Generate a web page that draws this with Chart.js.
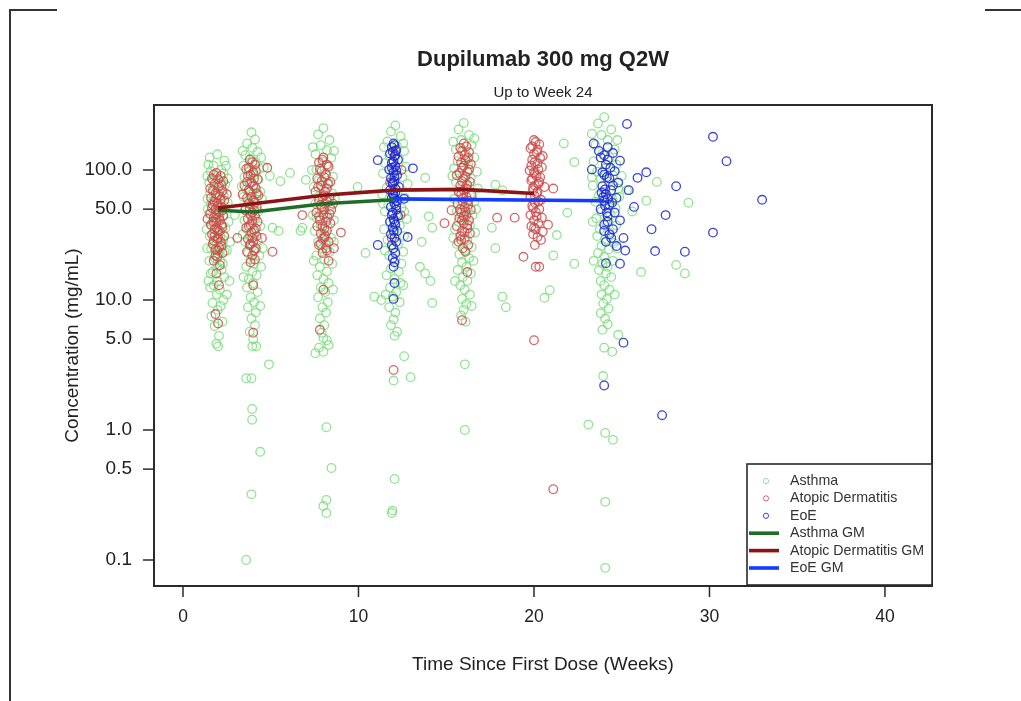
<!DOCTYPE html>
<html>
<head>
<meta charset="utf-8">
<script src="https://cdn.jsdelivr.net/npm/chart.js@4.4.1/dist/chart.umd.min.js"></script>
<style>
  body { margin: 0; background: #fff; }
  #wrap { width: 1021px; height: 701px; }
</style>
</head>
<body>
<div id="wrap"><canvas id="pkChart" width="1021" height="701"></canvas></div>
<script>
// tick labels
const xTicks = [0, 10, 20, 30, 40];
const yTicks = [0.1, 0.5, 1, 5, 10, 50, 100];
const yTickLabels = ["0.1", "0.5", "1.0", "5.0", "10.0", "50.0", "100.0"];

// individual concentrations [week, mg/mL]
const asthmaPts = [
  // week 2
  [1.52,125],[1.95,132],[2.36,118],[1.74,108],[2.18,100],[1.58,98],[1.92,90],[2.31,94],[1.70,84],[2.12,80],
  [1.49,80],[1.98,74],[2.40,77],[1.77,70],[2.20,68],[1.55,66],[1.90,61],[2.33,63],[1.72,57],[2.15,55],
  [1.60,55],[2.00,50],[2.38,52],[1.78,48],[2.10,46],[1.50,46],[1.93,42],[2.28,44],[1.70,40],[2.20,38],
  [1.57,38],[1.99,35],[2.42,36],[1.76,33],[2.13,31],[1.52,31],[1.91,28],[2.30,29],[1.73,26],[2.18,25],
  [1.60,25],[2.02,22.5],[2.37,23.5],[1.80,21],[2.12,20],[1.50,20],[1.95,18],[2.27,19],[1.70,16.5],[2.20,17],
  [1.58,16],[1.97,14],[2.35,15],[1.75,13],[2.10,12],[1.55,12.5],[1.92,11],[2.30,10],[1.68,9.5],[2.15,9],
  [1.62,7.5],[1.98,8.4],[2.25,6.8],[1.80,6.3],[2.05,5.3],[1.90,4.6],[2.60,40],[2.70,28],[2.65,14],[1.35,35],[1.40,60],
  [1.38,90],[2.55,86],[1.42,50],[2.55,56],[1.38,25],[2.50,24],[1.45,14],[2.50,11],[1.45,110],[2.45,108],
  // week 4
  [3.90,195],[4.10,172],[3.65,160],[3.95,148],[4.25,138],[3.55,130],[3.85,122],[4.15,115],[3.45,108],[4.35,102],
  [3.75,98],[4.05,92],[3.50,88],[4.30,84],[3.80,80],[4.10,75],[3.60,71],[4.40,68],[3.90,65],[3.45,62],
  [4.20,59],[3.70,56],[4.00,53],[3.55,50],[4.30,48],[3.85,46],[4.15,43],[3.50,41],[3.95,39],[4.40,37],
  [3.65,35],[4.05,33],[3.80,31],[4.25,29],[3.55,28],[3.95,26],[4.15,24.5],[3.70,23],[4.35,22],[3.85,20.5],
  [4.05,19],[3.60,18],[3.95,16.5],[4.20,15.5],[3.75,14.5],[4.00,13.5],[3.65,12.5],[4.25,11.5],[3.85,10.5],[4.05,9.6],
  [3.70,8.8],[4.15,8],[3.90,7.2],[4.10,6.4],[3.80,5.7],[4.00,5],[3.95,4.4],
  [4.95,90],[5.55,82],[5.10,36],[5.45,34],[2.95,45],[4.60,105],[4.55,25],
  [3.40,140],[4.45,125],[3.35,75],[4.50,60],[3.40,32],[4.45,18],[3.45,15],[4.40,9],
  // week 8
  [8.00,210],[7.70,188],[8.35,170],[7.85,155],[8.20,142],[7.55,132],[8.45,124],[7.95,116],[8.25,108],[7.60,101],
  [8.10,95],[8.55,89],[7.75,84],[8.30,79],[7.45,74],[8.00,70],[8.50,66],[7.70,62],[8.20,58],[7.55,55],
  [8.40,52],[7.90,49],[8.15,46],[7.60,43],[8.60,41],[7.85,38],[8.25,36],[7.50,34],[8.05,32],[8.45,30],
  [7.70,28],[8.15,26.5],[7.95,25],[8.35,23.5],[7.60,22],[8.05,20.5],[8.50,19],[7.80,18],[8.20,16.5],[7.65,15.5],
  [8.00,14.5],[8.30,13.5],[7.85,12.5],[8.10,11.5],[7.70,10.5],[8.25,9.6],[7.95,8.8],[8.15,8],[7.80,7.2],[8.05,6.4],
  [7.90,5.6],[8.20,4.9],[7.75,4.3],[6.10,95],[7.00,84],[6.70,34],[6.80,36],
  [7.40,150],[8.60,140],[7.35,100],[8.65,60],[7.40,45],[8.60,28],[7.45,20],[8.55,12],
  [10.40,23],[9.95,74],[10.90,10.6],[11.30,10],
  // week 12
  [12.10,220],[11.85,198],[12.40,182],[11.65,166],[12.20,152],[12.60,140],[11.75,130],[12.30,121],[11.50,113],[12.70,106],
  [12.00,100],[11.40,94],[12.50,88],[11.90,83],[12.80,78],[11.60,73],[12.25,69],[11.35,65],[12.65,61],[12.05,57],
  [11.70,54],[12.45,51],[11.50,48],[12.15,45],[12.75,42],[11.80,40],[12.35,37.5],[11.45,35],[12.05,33],[12.60,31],
  [11.65,29],[12.25,27],[11.95,25],[12.55,23.5],[11.75,22],[12.10,20.5],[12.45,19],[11.85,17.5],[12.30,16.5],[11.60,15.5],
  [12.05,14.5],[12.40,13.5],[11.80,12.5],[12.15,11.5],[11.95,10.6],[12.35,9.6],[11.75,8.8],[12.10,8],[12.00,7.1],[11.85,6.4],[12.20,5.7],
  [13.80,87],[14.00,44],[14.20,36],[13.60,28],[14.10,14],[14.20,9.5],[13.50,18],[13.80,16],
  [11.45,150],[12.55,160],[11.40,55],[12.60,48],[11.50,24],[12.55,13],[11.55,11],
  // week 16
  [16.00,230],[15.70,205],[16.30,186],[15.85,170],[16.45,156],[15.55,144],[16.10,134],[16.60,125],[15.65,117],[16.25,110],
  [15.45,103],[16.75,97],[15.95,91],[16.40,86],[15.55,81],[16.15,76],[16.80,72],[15.75,68],[16.35,64],[15.45,60],
  [16.60,57],[15.90,54],[16.20,51],[15.60,48],[16.50,45],[16.00,42.5],[15.70,40],[16.35,37.5],[15.50,35],[16.65,33],
  [15.85,31],[16.20,29],[15.60,27],[16.45,25.5],[16.05,24],[15.75,22.5],[16.30,21],[15.90,19.5],[16.15,18],[15.65,17],
  [16.40,16],[15.95,15],[16.20,14],[15.80,13],[16.05,12],[16.35,11],[15.90,10.2],[16.15,9.3],[16.00,8.4],[15.85,7.6],[16.10,6.8],
  [17.80,77],[18.20,70],[17.60,36],[17.80,25],[18.20,10.6],[18.40,8.8],
  [15.40,165],[16.60,175],[15.35,90],[16.70,50],[15.40,30],[16.55,20],[15.50,14],[16.45,9],
  // week 24
  [24.00,255],[23.65,228],[24.40,205],[23.85,186],[24.20,170],[23.50,156],[24.60,144],[23.90,134],[24.30,125],[23.40,117],
  [24.70,110],[24.05,103],[23.60,97],[24.50,91],[23.80,86],[24.25,81],[23.35,76],[24.80,72],[24.00,68],[23.70,64],
  [24.45,60],[23.50,57],[24.15,54],[24.65,51],[23.85,48],[24.35,45],[23.55,42.5],[24.10,40],[24.70,37.5],[23.75,35],
  [24.30,33],[23.60,31],[24.05,29],[24.55,27.5],[23.85,26],[24.25,24.5],[23.65,23],[24.00,21.5],[24.50,20],[23.90,19],
  [24.20,18],[23.70,17],[24.10,16],[24.40,15],[23.80,14],[24.00,13],[24.30,12],[23.85,11],[24.15,10.2],[23.95,9.4],
  [24.25,8.6],[23.80,7.9],[24.05,7.2],[24.20,6.5],[23.90,5.9],
  [23.30,190],[24.75,170],[23.30,88],[24.85,62],[23.35,40],[24.75,25],[23.40,20],[24.60,11],
  [21.70,160],[22.30,115],[21.30,31.6],[21.10,22],[20.60,10.4],[20.90,11.9],[22.30,19],[21.90,47],
  [26.10,16.4],[27.00,81],[26.40,58],[28.80,56],[28.10,18.6],[28.60,16],[25.00,90],[25.30,70],[25.60,48],
  // low values
  [2.00,4.4],[4.17,4.4],[4.90,3.2],[3.60,2.5],[3.90,2.5],[3.94,1.45],[3.94,1.2],[4.40,0.68],[3.90,0.32],[3.60,0.1],
  [8.00,5.1],[8.30,4.5],[8.00,4.0],[7.54,3.9],[8.17,1.05],[8.46,0.51],[8.17,0.29],[8.00,0.26],[8.17,0.23],
  [12.06,5.3],[12.60,3.7],[12.00,2.4],[12.97,2.55],[12.06,0.42],[11.90,0.23],[11.94,0.24],
  [16.06,3.2],[16.06,1.0],
  [23.10,1.1],[24.06,0.95],[24.50,0.84],[24.06,0.28],[24.06,0.087],[24.00,4.3],[24.46,4.0],[24.80,5.4],[23.94,2.6]
];

const adPts = [
  // week 2
  [1.90,95],[2.15,90],[1.65,86],[2.30,82],[1.80,78],[2.05,75],[1.55,72],[2.25,69],[1.85,66],[2.10,63],
  [1.60,61],[2.35,58],[1.95,56],[1.70,54],[2.20,52],[1.85,50],[2.05,48],[1.55,46],[2.30,44.5],[1.75,43],
  [2.10,41],[1.90,39.5],[1.60,38],[2.25,36.5],[1.80,35],[2.00,33.5],[1.65,32],[2.35,31],[1.95,29.5],[2.15,28],
  [1.70,27],[2.05,25.5],[1.85,24.5],[2.25,23],[1.95,21.5],[1.75,20],[2.10,18.5],[1.90,16],[2.05,13],[1.85,7.8],[2.00,6.6],
  [3.10,30],[1.40,42],[2.50,65],
  [1.75,92],[2.00,85],[2.20,76],[1.70,70],[1.95,64],[2.15,59],[1.80,57],[2.00,53],[1.65,51],[2.25,49],
  [1.90,45],[2.05,43],[1.75,40],[2.20,38],[1.90,36],[2.10,34],[1.80,31],[2.00,30],[1.75,28.5],[2.20,26],[1.95,24],[1.85,22],
  // week 4
  [3.80,120],[4.10,110],[3.60,102],[4.00,96],[3.70,90],[4.25,85],[3.90,80],[3.50,76],[4.15,72],[3.80,68],
  [4.30,64],[3.65,61],[4.00,58],[3.75,55],[4.20,52],[3.55,49],[3.95,47],[4.10,44.5],[3.70,42],[4.25,40],
  [3.85,38],[3.60,36],[4.05,34.5],[3.90,33],[4.20,31],[3.70,29.5],[4.00,28],[3.80,26.5],[4.15,25],[3.65,23.5],
  [3.95,22],[4.10,20.5],[3.85,19.5],[4.00,13],[4.00,5.6],[4.80,104],[5.10,23.5],[4.50,30],[3.40,65],
  [3.95,115],[3.75,104],[4.15,98],[3.85,92],[4.05,86],[3.65,81],[4.00,76],[3.75,70],[4.20,66],[3.90,62],
  [4.10,56],[3.80,51],[4.05,49],[3.85,45],[3.95,41],[3.75,37],[4.15,35.5],[3.95,30],[3.85,27],[4.05,24],
  // week 8
  [8.00,125],[7.75,114],[8.30,106],[7.90,98],[8.15,92],[7.65,86],[8.40,81],[7.85,76],[8.20,72],[7.55,68],
  [8.05,64],[8.35,61],[7.75,58],[8.10,55],[7.90,52],[8.45,49.5],[7.60,47],[8.00,45],[8.25,43],[7.80,41],
  [8.40,39],[7.65,37],[8.05,35.5],[8.20,34],[7.85,32.5],[8.10,31],[7.95,29.5],[8.30,28],[7.75,26.5],[8.15,25],
  [7.95,23],[8.30,20],[8.00,12],[7.80,5.9],[9.00,33],[6.80,45],[8.60,25],[8.55,55],
  [7.95,120],[8.20,110],[7.80,102],[8.05,88],[7.90,82],[8.25,78],[7.70,74],[8.10,68],[7.95,62],[8.20,57],
  [7.85,54],[8.05,50],[8.35,46],[7.75,44],[8.15,40],[7.95,37],[8.05,30],[7.85,27],[8.20,24],
  // week 12
  [12.10,140],[11.80,80],[12.40,45],[12.00,2.9],[11.90,30],[12.45,100],
  // week 16
  [16.00,160],[15.80,148],[16.30,137],[15.70,127],[16.10,119],[16.40,111],[15.90,104],[16.20,97],[15.60,91],[16.00,86],
  [16.35,81],[15.80,76],[16.15,72],[15.70,68],[16.45,64],[15.95,61],[16.25,58],[15.65,55],[16.05,52],[16.40,49.5],
  [15.85,47],[16.15,45],[15.75,43],[16.30,41],[16.00,39],[15.60,37],[16.20,35.5],[15.90,34],[16.35,32.5],[15.80,31],
  [16.05,29.5],[15.70,28],[16.25,26.5],[15.95,25],[16.10,23.5],[16.20,16.4],[15.90,7],[14.90,39],[15.30,49],[17.90,43],
  [16.15,152],[15.90,140],[16.05,130],[16.25,124],[15.85,114],[16.00,108],[16.30,101],[15.75,95],[16.10,89],[15.90,82],
  [16.20,77],[16.00,70],[15.85,65],[16.15,62],[15.95,57],[16.25,54],[15.80,50],[16.10,48],[16.00,44],[15.90,41],
  [16.20,38],[16.05,33],[15.85,29],
  // week 20
  [20.00,170],[20.30,158],[19.80,147],[20.15,137],[20.50,128],[19.90,120],[20.20,112],[20.45,105],[19.75,99],[20.05,93],
  [20.35,88],[19.85,83],[20.25,78],[20.60,74],[19.95,70],[20.15,66],[19.80,62],[20.40,59],[20.05,56],[19.90,53],
  [20.30,50],[20.10,47.5],[19.80,45],[20.45,43],[20.00,41],[20.25,39],[19.85,37],[20.10,35],[20.50,33.5],[19.95,32],
  [20.20,30.5],[20.40,29],[20.05,26.5],[19.40,21.5],[20.10,18],[20.30,18],[20.00,4.9],[18.90,43],[21.10,72],[20.80,38],[21.10,0.35],
  [20.10,164],[19.90,152],[20.20,143],[20.00,133],[20.35,124],[20.05,115],[19.85,108],[20.25,101],[20.00,96],[20.15,90],
  [19.90,86],[20.30,81],[20.05,76],[19.95,73],[20.20,68],[20.05,63],[20.25,57],[19.95,51],[20.15,44],[20.00,36]
];

const eoePts = [
  // week 12
  [12.00,160],[11.90,150],[12.15,142],[11.80,134],[12.05,127],[12.25,120],[11.90,113],[12.10,107],[11.75,101],[12.00,96],
  [12.20,91],[11.85,86],[12.05,82],[11.95,78],[12.30,74],[11.80,70],[12.10,67],[12.00,64],[11.90,61],[12.20,58],
  [12.05,55],[11.85,52],[12.15,49.5],[11.95,47],[12.25,44.5],[12.00,42],[11.80,40],[12.10,38],[11.95,36],[12.20,34],
  [11.85,32],[12.05,30],[12.15,28],[11.90,26.5],[12.00,25],[12.10,23],[11.95,21],[12.05,19.5],[12.00,18],[12.05,13.5],[12.00,10.2],
  [11.10,26.5],[11.10,119],[13.10,103],[12.80,30.5],[12.60,60],
  [12.05,155],[11.95,138],[12.10,130],[12.00,116],[11.90,104],[12.15,99],[12.05,88],[11.95,80],[12.10,72],[11.95,66],
  [12.05,60],[12.15,53],[11.90,45],[12.05,40],[12.00,34],
  // week 24
  [25.30,226],[23.40,160],[24.20,150],[24.50,135],[23.80,125],[24.90,118],[24.10,110],[23.30,101],[24.60,98],[24.00,92],
  [24.30,86],[24.80,80],[23.90,75],[24.40,70],[24.10,65],[24.70,61],[24.00,58],[24.30,54],[23.80,50],[24.60,47],
  [24.20,44],[24.90,41],[24.00,38],[24.50,35],[24.30,32],[25.10,30],[24.10,28],[24.70,26],[25.20,24],[24.10,19.2],
  [24.90,19],[25.40,70],[25.70,52],[23.70,140],[24.20,120],[23.95,62],[24.15,47],
  [24.00,130],[24.35,104],[23.90,96],[24.15,88],[24.50,76],[24.05,71],[23.85,67],[24.20,60],[24.45,56],[24.05,53],
  [24.20,40],[24.00,34],[24.40,30],
  [26.70,35],[26.40,96],[25.90,87],[28.10,75],[27.50,45],[26.90,23.8],[28.60,23.5],[30.20,33],[30.20,180],[30.97,117],[33.00,59],
  [25.10,4.7],[24.00,2.2],[27.30,1.3]
];

// geometric means by nominal week
const asthmaGmWeeks = [2, 4, 8, 12];
const asthmaGm = [49, 47.5, 55, 59];
const adGmWeeks = [2, 4, 8, 12, 16, 20];
const adGm = [51, 55, 64, 70, 71, 66];
const eoeGmWeeks = [12, 24];
const eoeGm = [60, 58];

const FONT = '"Liberation Sans", Arial, Helvetica, sans-serif';
const TEXT = "#222";

function toXY(pts) {
  return pts.map((p) => ({ x: p[0], y: p[1] }));
}
function zipXY(xs, ys) {
  return xs.map((x, i) => ({ x: x, y: ys[i] }));
}

function pointSet(label, pts, color, order) {
  return {
    label: label,
    data: toXY(pts),
    showLine: false,
    pointStyle: "circle",
    pointRadius: 4.3,
    pointBorderWidth: 1.3,
    pointBorderColor: color,
    pointBackgroundColor: "rgba(0,0,0,0)",
    borderColor: color,
    order: order,
  };
}
function gmSet(label, xs, ys, color, order) {
  return {
    label: label,
    data: zipXY(xs, ys),
    showLine: true,
    pointRadius: 0,
    borderWidth: 3.6,
    borderColor: color,
    backgroundColor: color,
    tension: 0,
    order: order,
  };
}

const datasets = [
  pointSet("Asthma", asthmaPts, "rgba(120,220,120,0.8)", 6),
  pointSet("Atopic Dermatitis", adPts, "rgba(205,75,75,0.85)", 5),
  pointSet("EoE", eoePts, "rgba(25,35,215,0.85)", 4),
  gmSet("Asthma GM", asthmaGmWeeks, asthmaGm, "rgb(30,110,40)", 3),
  gmSet("Atopic Dermatitis GM", adGmWeeks, adGm, "rgb(140,20,20)", 2),
  gmSet("EoE GM", eoeGmWeeks, eoeGm, "rgb(20,60,255)", 1),
];

// frame, axes, titles and legend drawn like the R base plot
const decorations = {
  id: "decorations",
  afterDraw(chart) {
    const ctx = chart.ctx;
    const area = chart.chartArea;
    const xs = chart.scales.x;
    const ys = chart.scales.y;
    ctx.save();

    // page frame fragments
    ctx.strokeStyle = "#333";
    ctx.lineWidth = 2;
    ctx.beginPath();
    ctx.moveTo(57, 10); ctx.lineTo(10, 10); ctx.lineTo(10, 701);
    ctx.moveTo(985, 10); ctx.lineTo(1021, 10);
    ctx.stroke();

    // plot box
    ctx.lineWidth = 2;
    ctx.strokeStyle = "#2a2a2a";
    ctx.strokeRect(area.left, area.top, area.right - area.left, area.bottom - area.top);

    // ticks
    ctx.lineWidth = 1.5;
    ctx.fillStyle = TEXT;
    ctx.font = "17.5px " + FONT;
    ctx.textAlign = "center";
    ctx.textBaseline = "middle";
    xTicks.forEach((t) => {
      const px = xs.getPixelForValue(t);
      ctx.beginPath();
      ctx.moveTo(px, area.bottom);
      ctx.lineTo(px, area.bottom + 11);
      ctx.stroke();
      ctx.fillText(String(t), px, 617);
    });
    ctx.textAlign = "right";
    ctx.font = "19px " + FONT;
    yTicks.forEach((t, i) => {
      const py = ys.getPixelForValue(t);
      ctx.beginPath();
      ctx.moveTo(area.left, py);
      ctx.lineTo(area.left - 11, py);
      ctx.stroke();
      ctx.fillText(yTickLabels[i], 132, py);
    });

    // titles
    const cx = (area.left + area.right) / 2;
    ctx.textAlign = "center";
    ctx.font = "bold 22px " + FONT;
    ctx.fillText("Dupilumab 300 mg Q2W", cx, 60);
    ctx.font = "15px " + FONT;
    ctx.fillText("Up to Week 24", cx, 93);
    ctx.font = "19px " + FONT;
    ctx.fillText("Time Since First Dose (Weeks)", cx, 665);
    ctx.save();
    ctx.translate(73, (area.top + area.bottom) / 2);
    ctx.rotate(-Math.PI / 2);
    ctx.fillText("Concentration (mg/mL)", 0, 0);
    ctx.restore();

    // legend box
    const lx = 747, ly = 464, lw = area.right - 747, lh = area.bottom - 1 - 464;
    ctx.fillStyle = "#fff";
    ctx.fillRect(lx, ly, lw, lh);
    ctx.strokeStyle = "#2a2a2a";
    ctx.lineWidth = 1.6;
    ctx.strokeRect(lx, ly, lw, lh);
    ctx.font = "14.2px " + FONT;
    ctx.textAlign = "left";
    chart.data.datasets.forEach((ds, i) => {
      const ry = 481 + i * 17.4;
      if (ds.showLine) {
        ctx.strokeStyle = ds.borderColor;
        ctx.lineWidth = 3.6;
        ctx.beginPath();
        ctx.moveTo(749, ry);
        ctx.lineTo(779, ry);
        ctx.stroke();
      } else {
        ctx.strokeStyle = ds.pointBorderColor;
        ctx.lineWidth = 1;
        ctx.beginPath();
        ctx.arc(766, ry, 2.6, 0, Math.PI * 2);
        ctx.stroke();
      }
      ctx.fillStyle = "#333";
      ctx.fillText(ds.label, 790, ry);
    });
    ctx.restore();
  },
};

new Chart(document.getElementById("pkChart"), {
  type: "scatter",
  data: { datasets: datasets },
  options: {
    responsive: false,
    animation: false,
    devicePixelRatio: 1,
    layout: { padding: { top: 105, right: 89, left: 0, bottom: 0 } },
    plugins: { legend: { display: false }, tooltip: { enabled: false } },
    scales: {
      x: {
        type: "linear",
        min: -1.652,
        max: 42.68,
        ticks: { display: false },
        grid: { display: false },
        border: { display: false },
        afterFit: (s) => { s.height = 115; },
      },
      y: {
        type: "logarithmic",
        min: 0.0631,
        max: 316.2,
        ticks: { display: false },
        grid: { display: false },
        border: { display: false },
        afterFit: (s) => { s.width = 154; },
      },
    },
  },
  plugins: [decorations],
});
</script>
</body>
</html>
